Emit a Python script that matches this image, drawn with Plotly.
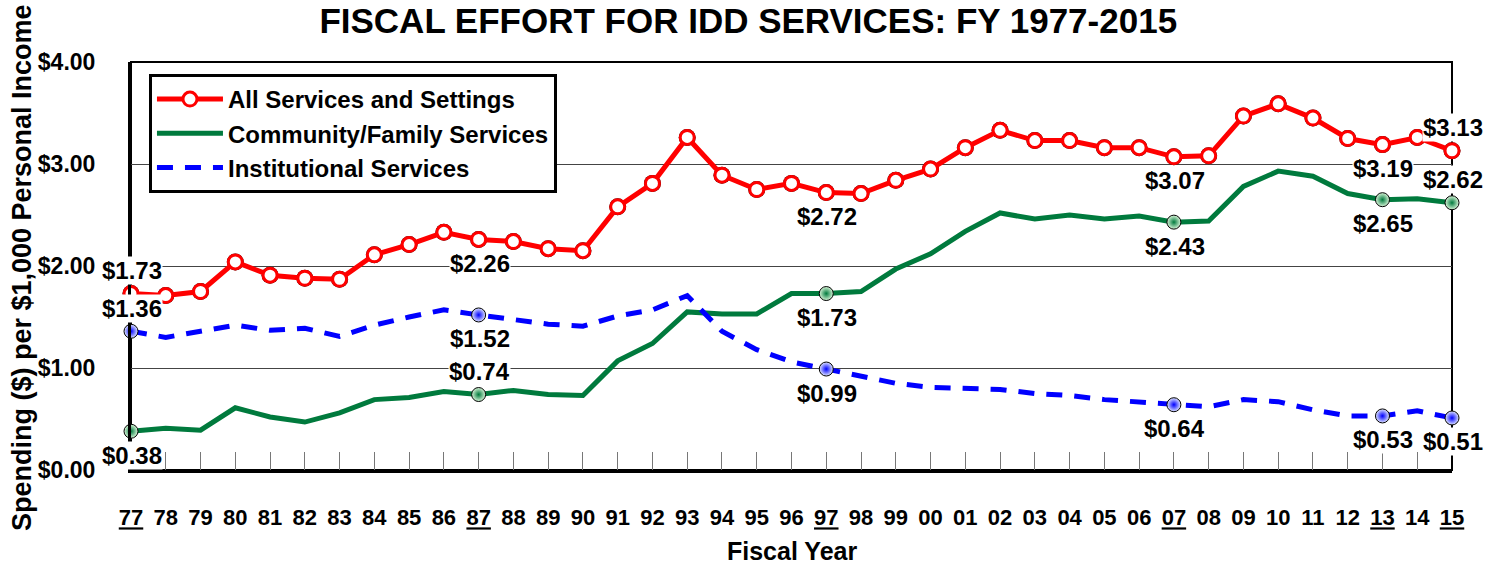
import plotly.graph_objects as go

years = list(range(1977, 2016))
year_labels = ["77","78","79","80","81","82","83","84","85","86","87","88","89","90",
               "91","92","93","94","95","96","97","98","99","00","01","02","03","04",
               "05","06","07","08","09","10","11","12","13","14","15"]
underlined = ["77", "87", "97", "07", "13", "15"]
y_ticks = [0, 1, 2, 3, 4]
y_tick_labels = ["$0.00", "$1.00", "$2.00", "$3.00", "$4.00"]

all_services = [1.73, 1.71, 1.75, 2.04, 1.91, 1.88, 1.87, 2.11, 2.21, 2.33, 2.26, 2.24, 2.17,
                2.15, 2.58, 2.81, 3.26, 2.89, 2.75, 2.81, 2.72, 2.71, 2.84, 2.95, 3.16, 3.33,
                3.23, 3.23, 3.16, 3.16, 3.07, 3.08, 3.47, 3.59, 3.45, 3.25, 3.19, 3.26, 3.13]
community = [0.38, 0.41, 0.39, 0.61, 0.52, 0.47, 0.56, 0.69, 0.71, 0.77, 0.74, 0.78, 0.74,
             0.73, 1.07, 1.24, 1.55, 1.53, 1.53, 1.73, 1.73, 1.75, 1.97, 2.12, 2.34, 2.52,
             2.46, 2.50, 2.46, 2.49, 2.43, 2.44, 2.78, 2.93, 2.88, 2.71, 2.65, 2.66, 2.62]
institutional = [1.36, 1.30, 1.36, 1.42, 1.37, 1.39, 1.31, 1.42, 1.50, 1.57, 1.52, 1.47, 1.43,
                 1.41, 1.51, 1.57, 1.71, 1.36, 1.18, 1.06, 0.99, 0.93, 0.85, 0.81, 0.80, 0.79,
                 0.75, 0.73, 0.69, 0.67, 0.64, 0.62, 0.69, 0.67, 0.59, 0.53, 0.53, 0.58, 0.51]

series_names = ["All Services and Settings", "Community/Family Services", "Institutional Services"]
label_years = [1977, 1987, 1997, 2007, 2013, 2015]
# label placement per series for each labelled year: +1 above, -1 below
label_side = {
    "all": [1, -1, -1, -1, -1, 1],
    "com": [-1, 1, -1, -1, -1, 1],
    "ins": [1, -1, -1, -1, -1, -1],
}

RED = "#FF0000"
GREEN = "#007A3D"
BLUE = "#0000FF"
FONT = "Liberation Sans"

ticktext = [f"<b><u>{t}</u></b>" if t in underlined else f"<b>{t}</b>" for t in year_labels]
ytext = [f"<b>{t}</b>" for t in y_tick_labels]

fig = go.Figure()

# black outline under the red markers
fig.add_trace(go.Scatter(
    x=years, y=all_services, mode="markers", showlegend=False, hoverinfo="skip",
    marker=dict(size=17, color="black"), cliponaxis=False,
))
fig.add_trace(go.Scatter(
    x=years, y=all_services, name=series_names[0], mode="lines+markers",
    line=dict(color=RED, width=5),
    marker=dict(size=14, color="white", line=dict(color=RED, width=3)),
    cliponaxis=False,
))
fig.add_trace(go.Scatter(
    x=years, y=community, name=series_names[1], mode="lines",
    line=dict(color=GREEN, width=5), cliponaxis=False,
))
fig.add_trace(go.Scatter(
    x=years, y=institutional, name=series_names[2], mode="lines",
    line=dict(color=BLUE, width=5, dash="16px,12px"), cliponaxis=False,
))

idx = [years.index(y) for y in label_years]
fig.add_trace(go.Scatter(
    x=label_years, y=[community[i] for i in idx], mode="markers", showlegend=False,
    marker=dict(size=14, color="#D8F5D8", gradient=dict(type="radial", color=GREEN),
                line=dict(color="black", width=1)),
    cliponaxis=False, hoverinfo="skip",
))
fig.add_trace(go.Scatter(
    x=label_years, y=[institutional[i] for i in idx], mode="markers", showlegend=False,
    marker=dict(size=14, color="#E0E6FF", gradient=dict(type="radial", color=BLUE),
                line=dict(color="black", width=1)),
    cliponaxis=False, hoverinfo="skip",
))

for key, data in (("all", all_services), ("com", community), ("ins", institutional)):
    for side, yr in zip(label_side[key], label_years):
        v = data[years.index(yr)]
        fig.add_annotation(
            x=yr, y=v, xref="x", yref="y", text=f"<b>${v:.2f}</b>", showarrow=False,
            yshift=23 if side > 0 else -24, xshift=1,
            font=dict(family=FONT, size=24, color="black"),
            bgcolor="white", borderpad=0,
        )

# axis titles
fig.add_annotation(x=0.5, y=-81 / 408, xref="paper", yref="paper",
                   text="<b>Fiscal Year</b>", showarrow=False,
                   xanchor="center", yanchor="middle",
                   font=dict(family=FONT, size=25, color="black"))
fig.add_annotation(x=-109 / 1321, y=0.495, xref="paper", yref="paper",
                   text="<b>Spending ($) per $1,000 Personal Income</b>", showarrow=False,
                   textangle=-90, xanchor="center", yanchor="middle",
                   font=dict(family=FONT, size=27, color="black"))

# outer frame
fig.add_shape(type="rect", xref="paper", yref="paper", x0=0, y0=0, x1=1, y1=1,
              line=dict(color="black", width=2), layer="below")

fig.update_layout(
    width=1498, height=565,
    margin=dict(l=131, r=46, t=62, b=95, autoexpand=False),
    paper_bgcolor="white", plot_bgcolor="white",
    title=dict(text="<b>FISCAL EFFORT FOR IDD SERVICES: FY 1977-2015</b>",
               x=0.4995, xref="container", xanchor="center",
               y=1 - 21 / 565, yref="container", yanchor="middle",
               font=dict(family=FONT, size=35, color="black")),
    legend=dict(x=0.0136, y=0.9706, xanchor="left", yanchor="top",
                bgcolor="white", bordercolor="black", borderwidth=3,
                font=dict(family=FONT, size=24, color="black", weight="bold"),
                itemwidth=66, tracegroupgap=0),
    xaxis=dict(range=[1977, 2015], tickvals=years, ticktext=ticktext, automargin=False,
               showgrid=False, zeroline=False, showline=True, linecolor="black", linewidth=3,
               ticks="inside", ticklen=18, tickcolor="#777777", tickwidth=1,
               ticklabelstandoff=26,
               tickfont=dict(family=FONT, size=22, color="black")),
    yaxis=dict(range=[0, 4], tickvals=y_ticks, ticktext=ytext, automargin=False,
               showgrid=True, gridcolor="#444444", gridwidth=1, zeroline=False,
               showline=True, linecolor="black", linewidth=3, ticks="",
               ticklabelstandoff=28,
               tickfont=dict(family=FONT, size=23, color="black")),
    showlegend=True,
)

fig.write_html("out.html", config={"displayModeBar": False},
               post_script="document.body.style.margin='0';document.body.style.overflow='hidden';")
